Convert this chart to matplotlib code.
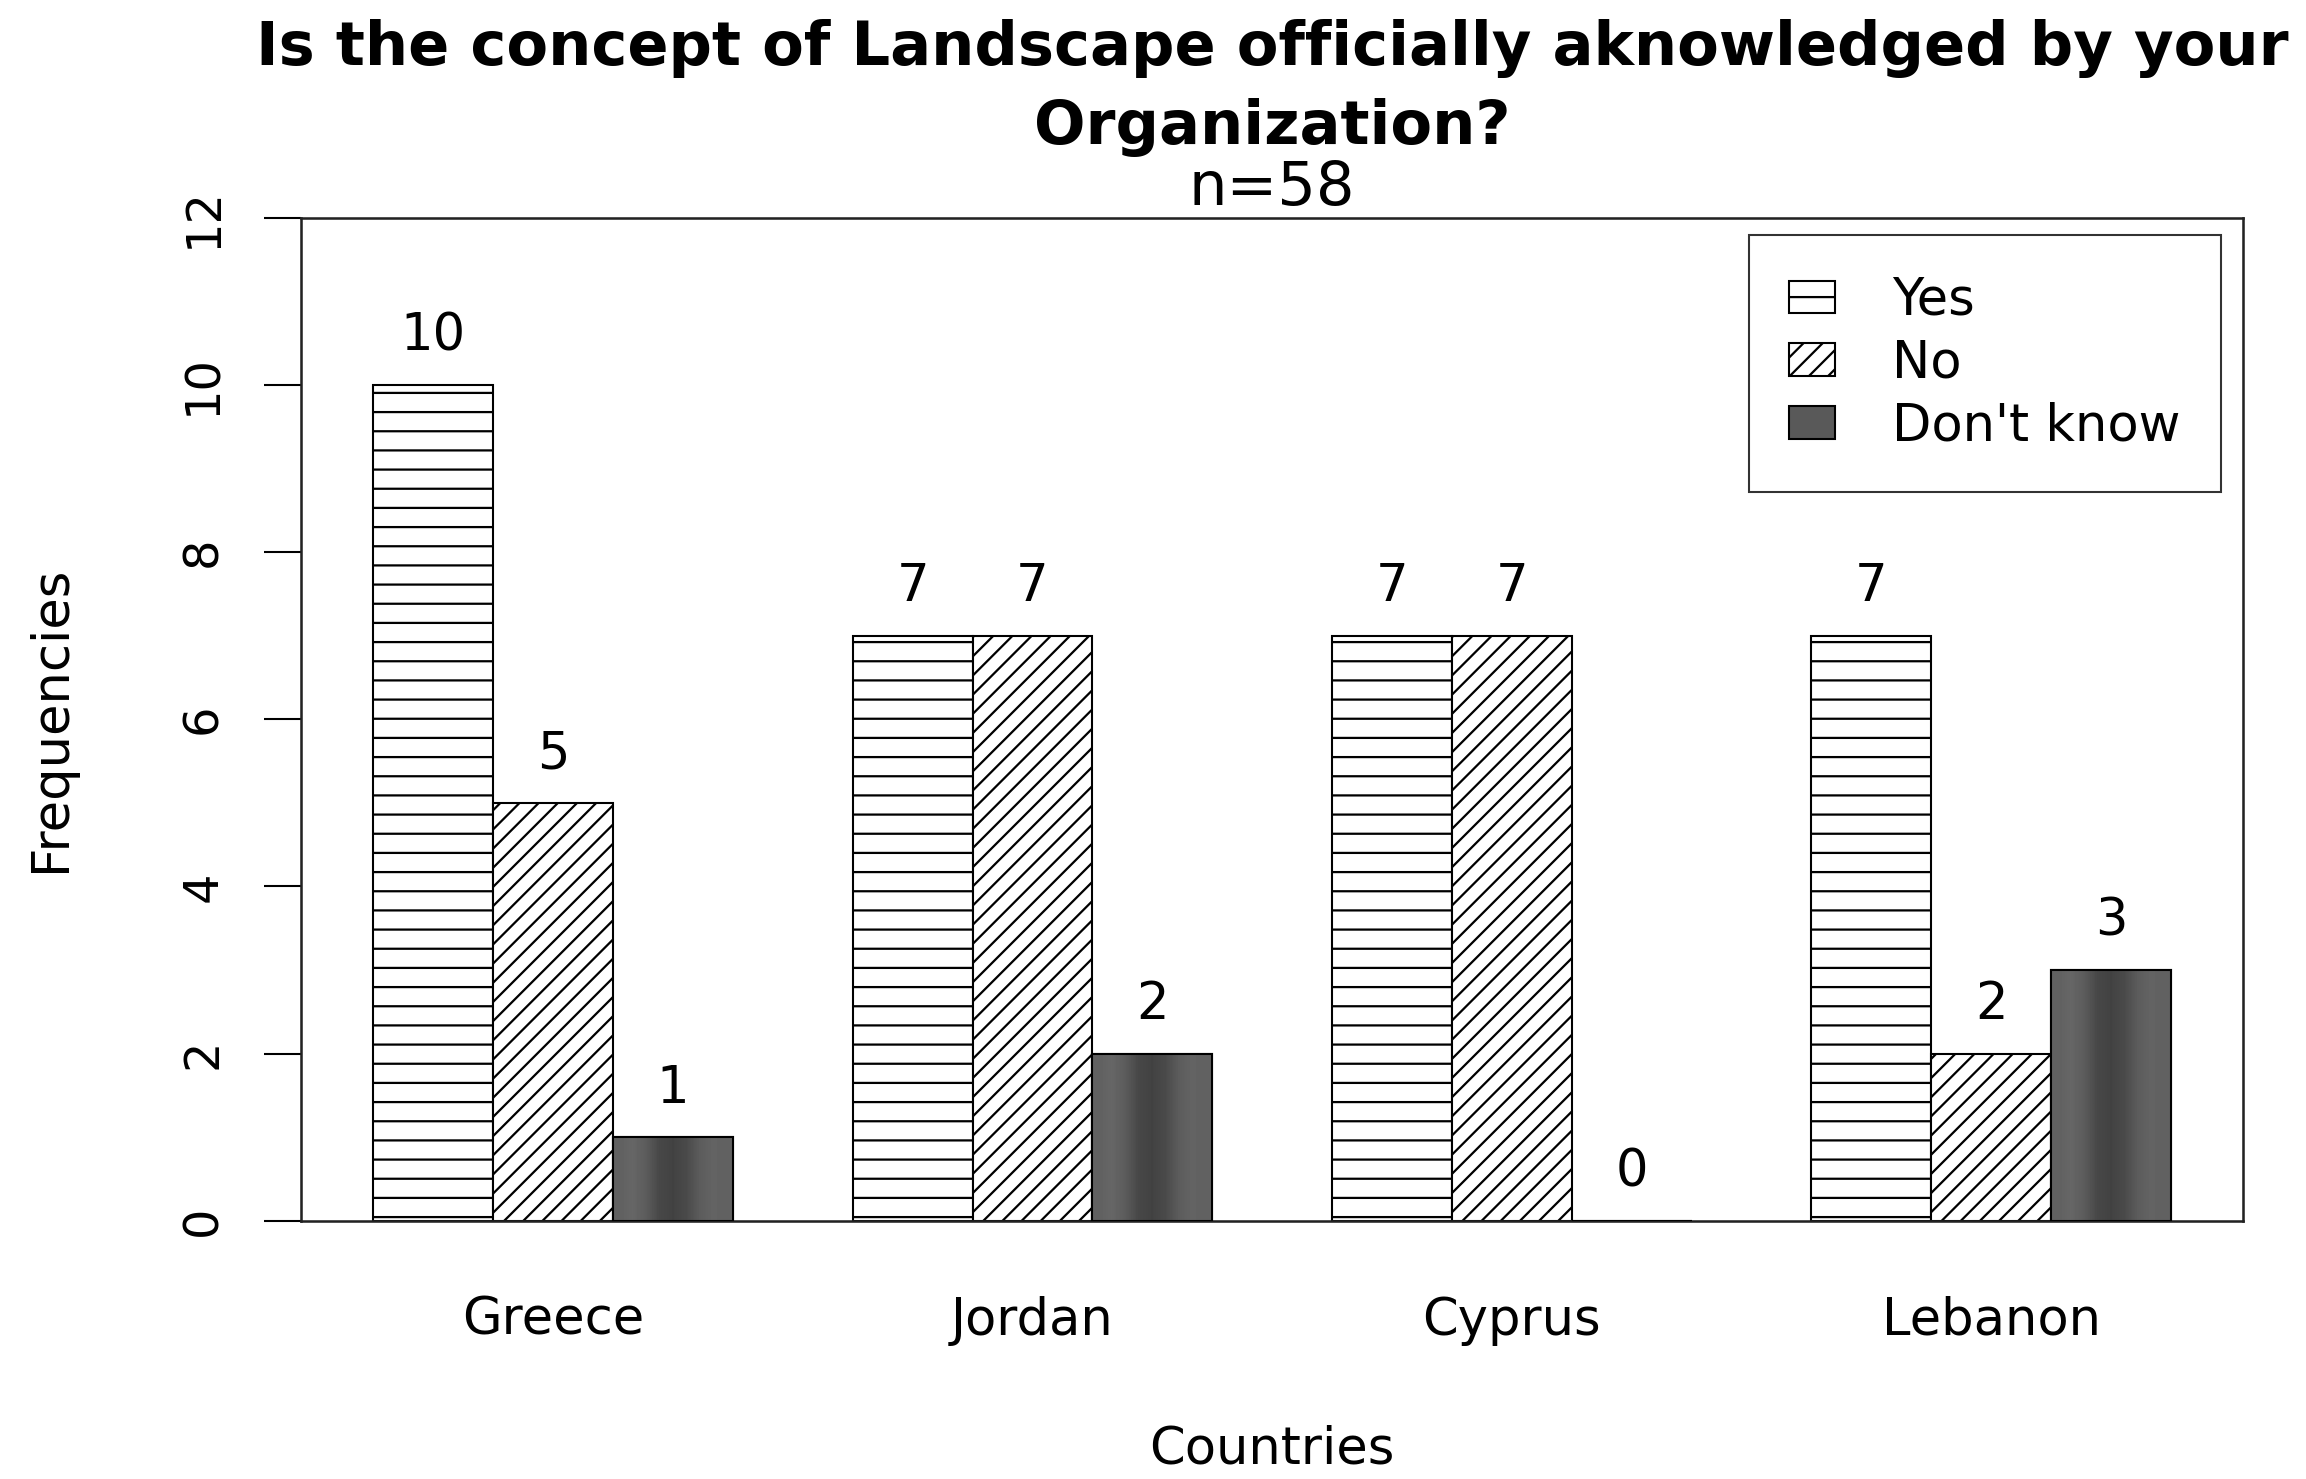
import numpy as np
import matplotlib
matplotlib.use("Agg")
import matplotlib.pyplot as plt

countries = ["Greece", "Jordan", "Cyprus", "Lebanon"]
answers = ["Yes", "No", "Don't know"]
yes = [10, 7, 7, 7]
no = [5, 7, 7, 2]
dont_know = [1, 2, 0, 3]
yticks = [0, 2, 4, 6, 8, 10, 12]

title = "Is the concept of Landscape officially aknowledged by your\nOrganization?"
subtitle = "n=58"

DPI = 115
plt.rcParams["font.family"] = ["DejaVu Sans"]
plt.rcParams["hatch.linewidth"] = 1.4

fig = plt.figure(figsize=(2306 / DPI, 1479 / DPI), dpi=DPI)
ax = fig.add_axes([0.1307, 0.1746, 0.8419, 0.6782])

# R style barplot(beside=TRUE): bars of width 1, one empty slot between groups
series = [yes, no, dont_know]
hatches = ["-", "//", None]
faces = ["white", "white", "#595959"]
group_left = np.arange(len(countries)) * (len(series) + 1) + 1
containers = []
for i, vals in enumerate(series):
    c = ax.bar(group_left + i, vals, width=1, align="edge", facecolor=faces[i],
               edgecolor="black", linewidth=1.3, hatch=hatches[i], label=answers[i], zorder=2)
    containers.append(c)

# shaded look of the "Don't know" bars
shade = np.array([0.38, 0.40, 0.36, 0.28, 0.26, 0.29, 0.36, 0.39, 0.38])
for rect in containers[2]:
    if rect.get_height() <= 0:
        continue
    x0, w, h = rect.get_x(), rect.get_width(), rect.get_height()
    im = ax.imshow(shade[np.newaxis, :], cmap="gray", vmin=0, vmax=1, aspect="auto",
                   interpolation="bilinear", extent=[x0, x0 + w, 0, h], zorder=2.5)
    im.set_clip_path(rect)
ax.bar(group_left + 2, dont_know, width=1, align="edge", fill=False,
       edgecolor="black", linewidth=1.3, zorder=3)

for c, vals in zip(containers, series):
    for rect, v in zip(c, vals):
        ax.text(rect.get_x() + rect.get_width() / 2, v + 0.58, str(v),
                ha="center", va="center", fontsize=32)

ax.set_xlim(group_left[0] - 0.6, group_left[-1] + len(series) + 0.6)
ax.set_ylim(0, 12)
ax.set_yticks(yticks)
ax.set_yticklabels([str(t) for t in yticks], rotation=90, va="center")
ax.tick_params(axis="y", length=23, width=1.3, pad=24, labelsize=30)
ax.set_xticks(group_left + len(series) / 2)
ax.set_xticklabels(countries)
ax.tick_params(axis="x", length=0, pad=47, labelsize=32)
for s in ax.spines.values():
    s.set_linewidth(1.6)
    s.set_color("#222222")

ax.set_xlabel("Countries", fontsize=32)
ax.xaxis.set_label_coords(0.5, -0.2283)
ax.xaxis.label.set_va("center")
ax.set_ylabel("Frequencies", fontsize=32)
ax.yaxis.set_label_coords(-0.129, 0.5)
ax.yaxis.label.set_va("center")

leg = ax.legend(handles=containers, labels=answers, loc="upper right",
                bbox_to_anchor=(2221 / 2306, 1 - 235 / 1479), bbox_transform=fig.transFigure,
                fontsize=32, fancybox=False, framealpha=1, edgecolor="#333333",
                borderpad=0.8, handlelength=0.9, handleheight=0.6,
                handletextpad=1.1, labelspacing=0.25, borderaxespad=0)
leg.get_frame().set_linewidth(1.3)

cx = 0.1307 + 0.8419 / 2
fig.text(cx, 1 - 88 / 1479, title, ha="center", va="center", fontsize=38,
         fontweight="bold", linespacing=1.42)
fig.text(cx, 1 - 188.5 / 1479, subtitle, ha="center", va="center", fontsize=38)

fig.savefig("out.png", dpi=DPI)
